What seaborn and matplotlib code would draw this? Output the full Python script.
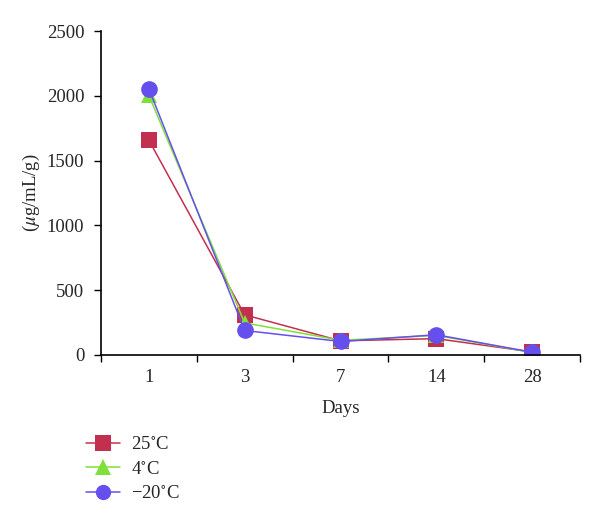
import matplotlib
matplotlib.use("Agg")
import matplotlib.pyplot as plt
import seaborn as sns
import pandas as pd
import numpy as np
from matplotlib.ticker import FixedLocator
from matplotlib.lines import Line2D

days = ["1", "3", "7", "14", "28"]
temp_25 = [1660, 309, 108, 125, 22]
temp_4 = [2006, 247, 112, 150, 18]
temp_m20 = [2057, 188, 103, 155, 20]
series_names = ["25$^{\\circ}$C", "4$^{\\circ}$C", "\u221220$^{\\circ}$C"]

sns.set_style("white")
plt.rcParams['font.family'] = ['Liberation Serif', 'DejaVu Serif']
plt.rcParams['mathtext.fontset'] = 'stix'

rows = []
for name, vals in zip(series_names, [temp_25, temp_4, temp_m20]):
    for i, (d, v) in enumerate(zip(days, vals)):
        rows.append({"pos": i, "day": d, "value": v, "series": name})
df = pd.DataFrame(rows)

colors = {series_names[0]: "#C3304F", series_names[1]: "#80E03A", series_names[2]: "#6550EE"}
markers = {series_names[0]: "s", series_names[1]: "^", series_names[2]: "o"}

fig = plt.figure(figsize=(6, 5.28), dpi=100)
ax = fig.add_axes([0.168, 0.328, 0.799, 0.613])
sns.lineplot(data=df, x="pos", y="value", hue="series", style="series",
             palette=colors, markers=markers, dashes=False, markersize=12,
             markeredgewidth=0, linewidth=1.1, ax=ax, legend=False)

ax.set_xlim(-0.5, 4.5)
ax.set_ylim(0, 2500)
ax.set_yticks([0, 500, 1000, 1500, 2000, 2500])
ax.set_xticks(range(len(days)))
ax.set_xticklabels(days)
ax.xaxis.set_minor_locator(FixedLocator(np.arange(-0.5, 5, 1)))
ax.tick_params(axis="x", which="major", bottom=True, length=0, labelsize=13.5, pad=10)
ax.tick_params(axis="x", which="minor", bottom=True, length=5, width=1, color="black", direction="out")
ax.tick_params(axis="y", which="major", left=True, length=5, width=1, color="black", direction="out",
               labelsize=13.5, pad=7)
for s in ["top", "right"]:
    ax.spines[s].set_visible(False)
for s in ["left", "bottom"]:
    ax.spines[s].set_color("black")
    ax.spines[s].set_linewidth(1.2)
ax.set_xlabel("Days", fontsize=13.5, labelpad=10)
ax.set_ylabel("($\\mu$g/mL/g)", fontsize=13.5, labelpad=3)

handles = [Line2D([], [], color=colors[n], marker=markers[n], markersize=11,
                  markeredgewidth=0, linewidth=1.1) for n in series_names]
fig.legend(handles, series_names, loc="upper left", bbox_to_anchor=(0.115, 0.206),
           frameon=False, fontsize=13.5, handlelength=1.8, labelspacing=0.4,
           handletextpad=0.6)

fig.savefig("out.png", dpi=100)
